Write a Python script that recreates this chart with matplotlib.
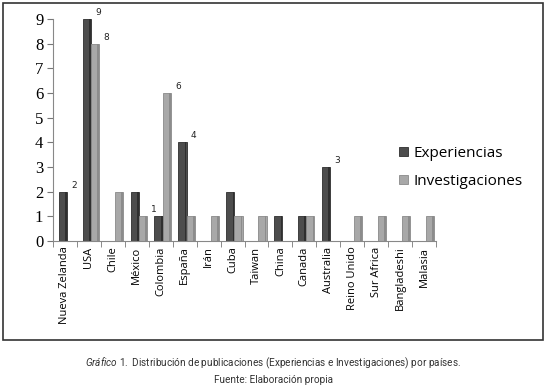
import numpy as np
import matplotlib
matplotlib.use('Agg')
from matplotlib import pyplot as plt
from matplotlib.patches import Rectangle

paises = ['Nueva Zelanda', 'USA', 'Chile', 'México', 'Colombia', 'España', 'Irán',
          'Cuba', 'Taiwan', 'China', 'Canada', 'Australia', 'Reino Unido',
          'Sur Africa', 'Bangladeshi', 'Malasia']
experiencias = [2, 9, 0, 2, 1, 4, 0, 2, 0, 1, 1, 3, 0, 0, 0, 0]
investigaciones = [0, 8, 2, 1, 6, 1, 1, 1, 1, 0, 1, 0, 1, 1, 1, 1]
# which bars carry a value label
etiq_exp = [0, 1, 5, 11]
etiq_inv = [1, 3, 4]

c_exp = '#4d4d4d'
c_inv = '#a8a8a8'

plt.rcParams['mathtext.fontset'] = 'custom'
plt.rcParams['mathtext.rm'] = 'Roboto'
plt.rcParams['mathtext.it'] = 'Roboto:italic'

fig = plt.figure(figsize=(5.47, 3.92), dpi=100)
fig.patches.append(Rectangle((3 / 547, 1 - 340 / 392), 540 / 547, 337 / 392,
                             transform=fig.transFigure, fill=False,
                             edgecolor='#333333', linewidth=1.2))

ax = fig.add_axes([53 / 547, 1 - 241 / 392, 383 / 547, 222 / 392])
x = np.arange(len(paises))
w = 0.34
sh = 0.08
b1 = ax.bar(x - w / 2 + sh, experiencias, w, color=c_exp, edgecolor='#2e2e2e', linewidth=0.6)
b2 = ax.bar(x + w / 2 + sh, investigaciones, w, color=c_inv, edgecolor='#8a8a8a', linewidth=0.6)
# darker side face for a light 3D look
ax.bar(x + sh - 0.04, experiencias, 0.07, color='#2f2f2f', linewidth=0)
ax.bar(x + w + sh - 0.04, investigaciones, 0.07, color='#8c8c8c', linewidth=0)

for i in etiq_exp:
    ax.annotate(str(experiencias[i]), (x[i] + sh, experiencias[i]),
                xytext=(3, 3), textcoords='offset points', fontsize=6.5,
                family='DejaVu Sans', color='#222222')
for i in etiq_inv:
    ax.annotate(str(investigaciones[i]), (x[i] + w + sh, investigaciones[i]),
                xytext=(3, 3), textcoords='offset points', fontsize=6.5,
                family='DejaVu Sans', color='#222222')

ax.set_xlim(-0.5, len(paises) - 0.5)
ax.set_ylim(0, 9)
ax.set_yticks(range(10))
ax.set_yticklabels([str(v) for v in range(10)], family='Liberation Serif', fontsize=12)
ax.set_xticks(x)
ax.set_xticklabels(paises, rotation=90, family='Open Sans', fontsize=8)
ax.set_xticks(np.arange(-0.5, len(paises), 1), minor=True)
ax.tick_params(axis='x', which='major', length=0, pad=4)
ax.tick_params(axis='x', which='minor', length=4, color='#777777')
ax.tick_params(axis='y', length=4, color='#777777', pad=3)
for s in ['top', 'right']:
    ax.spines[s].set_visible(False)
ax.spines['left'].set_color('#888888')
ax.spines['bottom'].set_color('#888888')

ax.legend([b1, b2], ['Experiencias', 'Investigaciones'], loc='upper left',
          bbox_to_anchor=(385 / 547, 1 - 132 / 392), bbox_transform=fig.transFigure,
          frameon=False, prop={'family': 'Open Sans', 'size': 11},
          handlelength=0.6, handleheight=0.6, handletextpad=0.35, labelspacing=0.85)

fig.text(273 / 547, 1 - 363 / 392,
         r'$\it{Gráfico\ 1.}$ Distribución de publicaciones (Experiencias e Investigaciones) por países.',
         ha='center', va='center', fontsize=7.2, family='Roboto', color='#333333')
fig.text(273 / 547, 1 - 380 / 392, 'Fuente: Elaboración propia', ha='center', va='center',
         fontsize=7.2, family='Roboto', color='#333333')

fig.savefig('out.png', dpi=100)
